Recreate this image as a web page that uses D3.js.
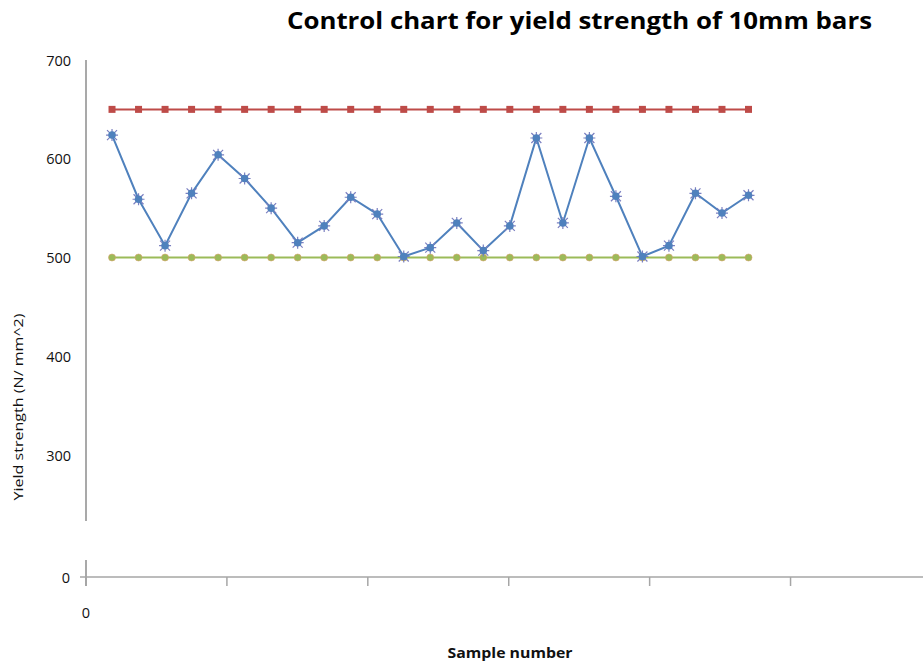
<!DOCTYPE html>
<html><head><meta charset="utf-8">
<script src="https://cdn.jsdelivr.net/npm/d3@7"></script>
<style>body{margin:0;background:#fff}</style>
</head><body>
<svg id="c" width="923" height="669"></svg>
<script>
const samples = d3.range(1, 26);
const yieldValues = [624,559,512,565,604,580,550,515,532,561,544,501,510,535,507,532,621,535,621,562,501,512,565,545,563];
const ucl = 650;
const lcl = 500;
const yTicks = [300,400,500,600,700];
const xAxisTicks = [0,5,10,15,20,25];

const svg = d3.select("#c");
const font = "'Open Sans', 'Liberation Sans', sans-serif";

const x = d3.scaleLinear().domain([0, 25]).range([85.5, 748.5]);
const xAxisScale = d3.scaleLinear().domain([0, 29.7]).range([86, 923]);
const y = d3.scaleLinear().domain([300, 700]).range([455, 60]);
const yZero = 577;

// title
svg.append("text").attr("x", 287).attr("y", 29)
  .attr("font-family", font).attr("font-weight","bold").attr("font-size", 22.5)
  .attr("textLength", 585).attr("lengthAdjust","spacingAndGlyphs")
  .attr("fill","#000").text("Control chart for yield strength of 10mm bars");

// y axis line (upper part)
svg.append("line").attr("x1",86).attr("x2",86).attr("y1",y(700)).attr("y2",521)
  .attr("stroke","#8c8c8c").attr("stroke-width",1.5);
// lower segment after break
svg.append("line").attr("x1",86).attr("x2",86).attr("y1",560).attr("y2",586)
  .attr("stroke","#8c8c8c").attr("stroke-width",1.5);

// x axis
const xg = svg.append("g").attr("transform",`translate(0,${yZero})`);
xg.append("line").attr("x1",80).attr("x2",923).attr("y1",0).attr("y2",0)
  .attr("stroke","#a6a6a6").attr("stroke-width",1.5);
xg.selectAll("line.t").data(xAxisTicks).enter().append("line").attr("class","t")
  .attr("x1",d=>xAxisScale(d)).attr("x2",d=>xAxisScale(d)).attr("y1",0).attr("y2",9)
  .attr("stroke","#a6a6a6").attr("stroke-width",1.5);

// y tick labels
const tickFont = 14.5;
svg.selectAll("text.yt").data(yTicks).enter().append("text").attr("class","yt")
  .attr("x",71).attr("y",d=>y(d)+5.5).attr("text-anchor","end")
  .attr("font-family",font).attr("font-size",tickFont).attr("fill","#111").text(d=>d);
svg.append("text").attr("x",70).attr("y",yZero+5.5).attr("text-anchor","end")
  .attr("font-family",font).attr("font-size",tickFont).attr("fill","#111").text("0");
svg.append("text").attr("x",86).attr("y",618).attr("text-anchor","middle")
  .attr("font-family",font).attr("font-size",tickFont).attr("fill","#111").text("0");

// axis titles
svg.append("text").attr("transform","translate(23,407) rotate(-90)").attr("text-anchor","middle")
  .attr("font-family",font).attr("font-size",13)
  .attr("textLength",187).attr("lengthAdjust","spacingAndGlyphs")
  .attr("fill","#111").text("Yield strength (N/ mm^2)");
svg.append("text").attr("x",510).attr("y",658).attr("text-anchor","middle")
  .attr("font-family",font).attr("font-weight","bold").attr("font-size",14)
  .attr("textLength",125).attr("lengthAdjust","spacingAndGlyphs")
  .attr("fill","#111").text("Sample number");

// UCL
const red = "#BE4B48", green = "#9BBB59", blue = "#4F81BD";
svg.append("path").datum(samples).attr("fill","none").attr("stroke",red).attr("stroke-width",2)
  .attr("d", d3.line().x(d=>x(d)).y(()=>y(ucl)));
svg.selectAll("rect.u").data(samples).enter().append("rect").attr("class","u")
  .attr("x",d=>x(d)-3.5).attr("y",y(ucl)-3.5).attr("width",7).attr("height",7).attr("fill",red);

// LCL
svg.append("path").datum(samples).attr("fill","none").attr("stroke",green).attr("stroke-width",2)
  .attr("d", d3.line().x(d=>x(d)).y(()=>y(lcl)));
svg.selectAll("circle.l").data(samples).enter().append("circle").attr("class","l")
  .attr("cx",d=>x(d)).attr("cy",y(lcl)).attr("r",3.5).attr("fill",green).attr("stroke","#d9a06a").attr("stroke-width",0.6);

// data
const pts = samples.map((s,i)=>({s, v: yieldValues[i]}));
svg.append("path").datum(pts).attr("fill","none").attr("stroke",blue).attr("stroke-width",2)
  .attr("d", d3.line().x(d=>x(d.s)).y(d=>y(d.v)));
const mk = svg.selectAll("g.m").data(pts).enter().append("g").attr("class","m")
  .attr("transform",d=>`translate(${x(d.s)},${y(d.v)})`);
mk.append("path").attr("d","M-5,-5L5,5M-5,5L5,-5M0,-6L0,6M-6,0L6,0")
  .attr("stroke","#7a7fc0").attr("stroke-width",1.2);
mk.append("circle").attr("r",3.8).attr("fill",blue);
</script>
</body></html>
